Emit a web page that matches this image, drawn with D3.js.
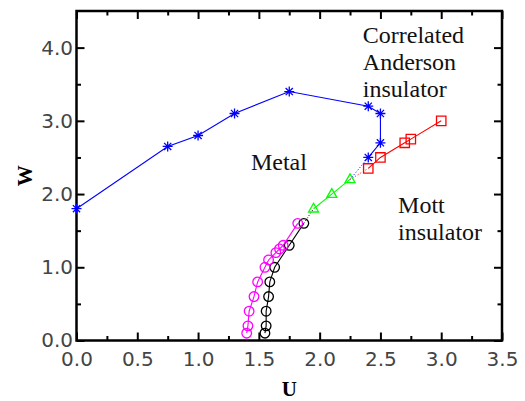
<!DOCTYPE html>
<meta charset='utf-8'>
<style>
  body { margin: 0; background: #fff; }
  .tick text { font-family: 'DejaVu Sans', sans-serif; font-size: 20px; fill: #444; }
  .tick line { stroke: #000; stroke-width: 2; }
  .note { font-family: 'Liberation Serif', serif; font-size: 24px; fill: #111; }
  .title { font-family: 'Liberation Serif', serif; font-size: 21px; font-weight: bold; }
</style>
<body>
<script src='https://d3js.org/d3.v7.min.js'></script>
<script>
  // blue stars: boundary of the correlated Anderson insulator
  const starU = [0.0, 0.75, 1.0, 1.3, 1.75, 2.4, 2.5, 2.5, 2.4]
  const starW = [1.8, 2.65, 2.8, 3.1, 3.4, 3.2, 3.1, 2.7, 2.5]
  // red squares: Mott insulator boundary
  const squareU = [2.4, 2.5, 2.7, 2.75, 3.0]
  const squareW = [2.35, 2.5, 2.7, 2.75, 3.0]
  // green triangles
  const triU = [1.95, 2.1, 2.25]
  const triW = [1.8, 2.0, 2.2]
  // black circles
  const blackU = [1.55, 1.56, 1.56, 1.58, 1.59, 1.63, 1.75, 1.87]
  const blackW = [0.1, 0.2, 0.4, 0.6, 0.8, 1.0, 1.3, 1.6]
  // magenta circles
  const magU = [1.40, 1.41, 1.42, 1.46, 1.49, 1.55, 1.58, 1.64, 1.67, 1.70, 1.82]
  const magW = [0.1, 0.2, 0.4, 0.6, 0.8, 1.0, 1.1, 1.2, 1.25, 1.3, 1.6]

  const xTicks = [0, 0.5, 1.0, 1.5, 2.0, 2.5, 3.0, 3.5]
  const xMinor = [0.25, 0.75, 1.25, 1.75, 2.25, 2.75, 3.25]
  const yTicks = [0, 1.0, 2.0, 3.0, 4.0]
  const yMinor = [0.5, 1.5, 2.5, 3.5]

  const zip = (us, ws) => us.map((u, i) => ({u: u, w: ws[i]}))
  const stars = zip(starU, starW)
  const squares = zip(squareU, squareW)
  const tris = zip(triU, triW)
  const blacks = zip(blackU, blackW)
  const mags = zip(magU, magW)

  const box = {left: 76.5, right: 502, top: 11, bottom: 340.5}

  const x = d3.scaleLinear().domain([0, 3.5]).range([box.left, box.right])
  const y = d3.scaleLinear().domain([0, 4.5]).range([box.bottom, box.top])

  const svg = d3.select('body')
    .append('svg')
    .attr('width', 525)
    .attr('height', 401)

  const fmt = d3.format('.1f')

  function addAxis(axis, tx, ty, labels) {
    const g = svg.append('g')
      .attr('transform', `translate(${tx}, ${ty})`)
      .call(axis)
    g.select('.domain').remove()
    if (!labels) g.selectAll('text').remove()
    return g
  }

  // major + minor ticks on all four sides, pointing inward
  addAxis(d3.axisBottom(x).tickValues(xTicks).tickSize(-8).tickPadding(11.5).tickFormat(fmt), 0, box.bottom, true)
  addAxis(d3.axisBottom(x).tickValues(xMinor).tickSize(-4.5), 0, box.bottom, false)
  addAxis(d3.axisTop(x).tickValues(xTicks).tickSize(-8), 0, box.top, false)
  addAxis(d3.axisTop(x).tickValues(xMinor).tickSize(-4.5), 0, box.top, false)
  addAxis(d3.axisLeft(y).tickValues(yTicks).tickSize(-8).tickPadding(3.5).tickFormat(fmt), box.left, 0, true)
  addAxis(d3.axisLeft(y).tickValues(yMinor).tickSize(-4.5), box.left, 0, false)
  addAxis(d3.axisRight(y).tickValues(yTicks).tickSize(-8), box.right, 0, false)
  addAxis(d3.axisRight(y).tickValues(yMinor).tickSize(-4.5), box.right, 0, false)

  svg.append('rect')
    .attr('x', box.left)
    .attr('y', box.top)
    .attr('width', box.right - box.left)
    .attr('height', box.bottom - box.top)
    .attr('fill', 'none')
    .attr('stroke', '#000')
    .attr('stroke-width', 2.5)

  const line = d3.line()
    .x(d => x(d.u))
    .y(d => y(d.w))

  // dotted connectors between the series
  function dotted(a, b, color) {
    svg.append('path')
      .attr('d', line([a, b]))
      .attr('fill', 'none')
      .attr('stroke', color)
      .attr('stroke-width', 1)
      .attr('stroke-dasharray', '1,2')
  }
  dotted(tris[2], stars[stars.length - 1], '#0000ff')
  dotted(tris[2], squares[0], '#ff0000')
  dotted(blacks[blacks.length - 1], tris[0], '#000')

  const starPath = 'M-5,0L5,0M0,-5L0,5M-3.6,-3.6L3.6,3.6M-3.6,3.6L3.6,-3.6'
  const squarePath = 'M-4.7,-4.7H4.7V4.7H-4.7Z'
  const triPath = 'M0,-5.5L5,3.3H-5Z'
  const circlePath = d3.symbol(d3.symbolCircle, Math.PI * 4.8 * 4.8)()

  function series(data, color, shape) {
    svg.append('path')
      .attr('d', line(data))
      .attr('fill', 'none')
      .attr('stroke', color)
      .attr('stroke-width', 1.1)
    svg.append('g')
      .selectAll('path')
      .data(data)
      .join('path')
      .attr('transform', d => `translate(${x(d.u)}, ${y(d.w)})`)
      .attr('d', shape)
      .attr('fill', 'none')
      .attr('stroke', color)
      .attr('stroke-width', 1.3)
  }

  series(stars, '#0000ff', starPath)
  series(squares, '#ff0000', squarePath)
  series(tris, '#00ff00', triPath)
  series(blacks, '#000', circlePath)
  series(mags, '#ff00ff', circlePath)

  // region labels
  const notes = [
    {t: 'Correlated', u: 2.355, w: 4.064},
    {t: 'Anderson', u: 2.355, w: 3.69},
    {t: 'insulator', u: 2.355, w: 3.32},
    {t: 'Metal', u: 1.435, w: 2.33},
    {t: 'Mott', u: 2.645, w: 1.74},
    {t: 'insulator', u: 2.645, w: 1.37}
  ]
  svg.append('g')
    .selectAll('text')
    .data(notes)
    .join('text')
    .attr('class', 'note')
    .attr('x', d => x(d.u))
    .attr('y', d => y(d.w))
    .text(d => d.t)

  svg.append('text')
    .attr('class', 'title')
    .attr('x', (box.left + box.right) / 2)
    .attr('y', 396)
    .attr('text-anchor', 'middle')
    .text('U')

  svg.append('text')
    .attr('class', 'title')
    .attr('transform', `translate(32, ${(box.top + box.bottom) / 2}) rotate(-90)`)
    .attr('text-anchor', 'middle')
    .text('W')
</script>
</body>
